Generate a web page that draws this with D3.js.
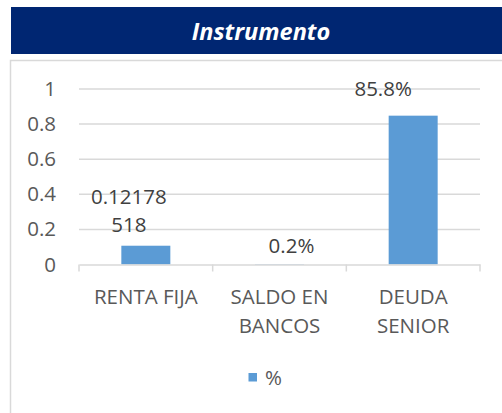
<!DOCTYPE html>
<html>
<head>
<meta charset="utf-8">
<script src="https://cdn.jsdelivr.net/npm/d3@7"></script>
<style>
  html, body { margin: 0; padding: 0; background: #ffffff; }
  svg { display: block; }
</style>
</head>
<body>
<svg id="chart" width="502" height="413"></svg>
<script>
// ---- data ----
const title = "Instrumento";
const categories = [["RENTA FIJA"], ["SALDO EN", "BANCOS"], ["DEUDA", "SENIOR"]];
const values = [0.107, 0.002, 0.848];
const valueLabels = [["0.12178", "518"], ["0.2%"], ["85.8%"]];
const yTicks = [0, 0.2, 0.4, 0.6, 0.8, 1];
const seriesName = "%";

// ---- layout / style ----
const W = 502, H = 413;
const font = "'Open Sans', sans-serif";
const fs = 20.5;
const textColor = "#595959";
const barColor = "#5B9BD5";
const plot = { left: 79, right: 480, top: 89, bottom: 264.5 };
const labelDx = [-17, 12, -30];

const svg = d3.select("#chart");

// title bar
svg.append("rect").attr("x", 11).attr("y", 7).attr("width", W - 11).attr("height", 47)
  .attr("fill", "#002672");
svg.append("text").attr("x", 261).attr("y", 40)
  .attr("text-anchor", "middle")
  .attr("font-family", font).attr("font-size", 23.5)
  .attr("font-weight", "bold").attr("font-style", "italic")
  .attr("fill", "#ffffff").text(title);

// chart border
svg.append("rect").attr("x", 10.5).attr("y", 60.5).attr("width", W + 10).attr("height", H)
  .attr("fill", "none").attr("stroke", "#d9d9d9").attr("stroke-width", 1.5);

const x = d3.scaleBand().domain(d3.range(categories.length))
  .range([plot.left, plot.right]).paddingInner(0).paddingOuter(0);
const y = d3.scaleLinear().domain([0, 1]).range([plot.bottom, plot.top]);

// gridlines
svg.append("g").selectAll("line").data(yTicks.filter(d => d > 0)).join("line")
  .attr("x1", plot.left).attr("x2", plot.right)
  .attr("y1", d => y(d)).attr("y2", d => y(d))
  .attr("stroke", "#d9d9d9").attr("stroke-width", 1.5);

// y axis labels
const yAxis = d3.axisLeft(y).tickValues(yTicks).tickSize(0).tickPadding(23)
  .tickFormat(d => String(d));
const gy = svg.append("g").attr("transform", `translate(${plot.left},0)`).call(yAxis);
gy.select(".domain").remove();
gy.selectAll("text").attr("font-family", font).attr("font-size", fs).attr("fill", textColor);

// bars
svg.append("g").selectAll("rect").data(values).join("rect")
  .attr("x", (d, i) => x(i) + x.bandwidth() / 2 - 24.5)
  .attr("width", 49)
  .attr("y", d => y(d))
  .attr("height", d => y(0) - y(d))
  .attr("fill", barColor);

// x axis
const xAxis = d3.axisBottom(x).tickSize(0).tickFormat("");
const gx = svg.append("g").attr("transform", `translate(0,${plot.bottom})`).call(xAxis);
gx.select(".domain").attr("stroke", "#d9d9d9").attr("stroke-width", 1.5);
const bounds = d3.range(categories.length + 1).map(i => i < categories.length ? x(i) : plot.right);
svg.append("g").selectAll("line").data(bounds).join("line")
  .attr("x1", d => d).attr("x2", d => d)
  .attr("y1", plot.bottom).attr("y2", plot.bottom + 7)
  .attr("stroke", "#d9d9d9").attr("stroke-width", 1.5);

// category labels
const catG = svg.append("g");
categories.forEach((lines, i) => {
  lines.forEach((t, j) => {
    catG.append("text").attr("x", x(i) + x.bandwidth() / 2).attr("y", 303.5 + j * 29)
      .attr("text-anchor", "middle").attr("font-family", font).attr("font-size", fs)
      .attr("fill", textColor).text(t);
  });
});

// value labels
const labelY = [[204, 232], [252.5], [95.5]];
const vl = svg.append("g");
valueLabels.forEach((lines, i) => {
  lines.forEach((t, j) => {
    vl.append("text").attr("x", x(i) + x.bandwidth() / 2 + labelDx[i]).attr("y", labelY[i][j])
      .attr("text-anchor", "middle").attr("font-family", font).attr("font-size", fs)
      .attr("fill", "#404040").text(t);
  });
});

// legend
svg.append("rect").attr("x", 248.5).attr("y", 373).attr("width", 8.5).attr("height", 8.5)
  .attr("fill", barColor);
svg.append("text").attr("x", 265).attr("y", 384.5).attr("font-family", font).attr("font-size", fs)
  .attr("fill", textColor).text(seriesName);
</script>
</body>
</html>
